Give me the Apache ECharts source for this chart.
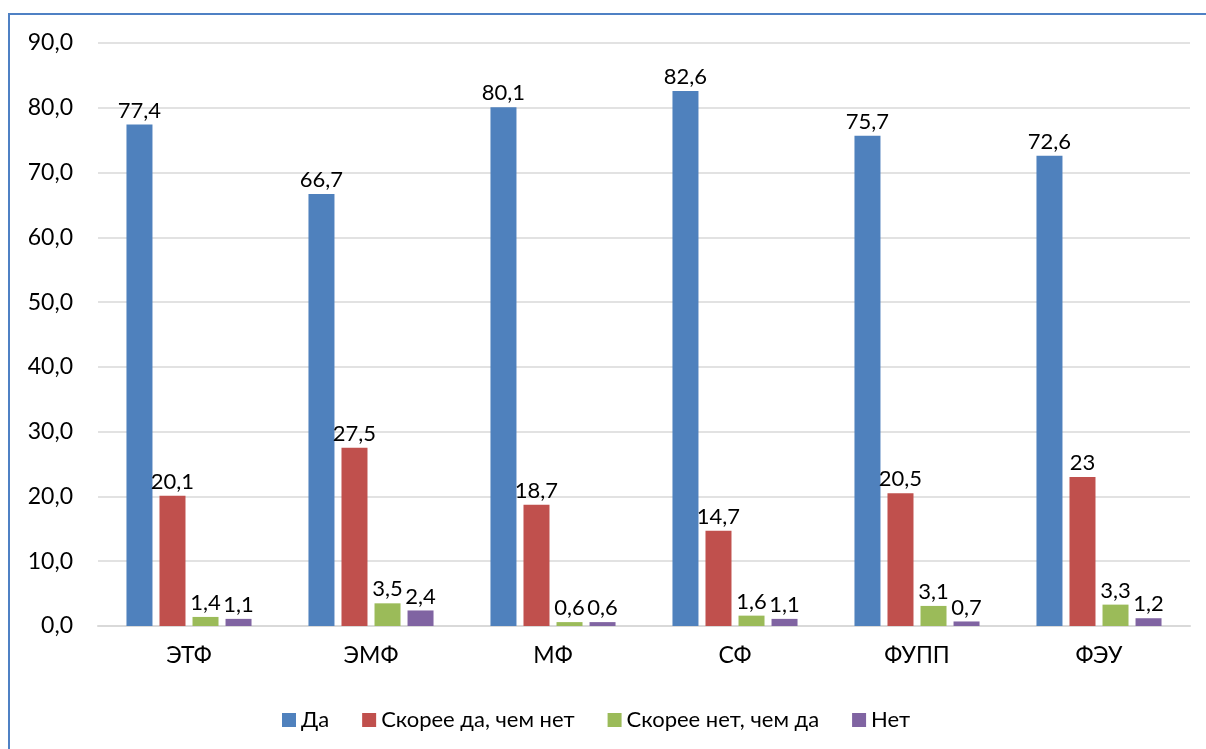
<!DOCTYPE html>
<html><head><meta charset="utf-8">
<script src="https://cdn.jsdelivr.net/npm/echarts@6/dist/echarts.min.js"></script>
<style>
html,body{margin:0;padding:0;background:#fff;overflow:hidden}
#c{position:absolute;left:0;top:0;width:1206px;height:749px}
#b{position:absolute;left:8px;top:13px;width:1300px;height:800px;border-top:2px solid #4f81c4;border-left:2px solid #4f81c4;pointer-events:none}
</style></head>
<body>
<div id="c"></div><div id="b"></div>
<script>
const categories = ['ЭТФ','ЭМФ','МФ','СФ','ФУПП','ФЭУ'];
const seriesNames = ['Да','Скорее да, чем нет','Скорее нет, чем да','Нет'];
const da = [77.4, 66.7, 80.1, 82.6, 75.7, 72.6];
const skoreeDa = [20.1, 27.5, 18.7, 14.7, 20.5, 23];
const skoreeNet = [1.4, 3.5, 0.6, 1.6, 3.1, 3.3];
const net = [1.1, 2.4, 0.6, 1.1, 0.7, 1.2];
const yTicks = {min: 0, max: 90, interval: 10};
const colors = ['#4F81BD','#C0504D','#9BBB59','#8064A2'];

const font = 'Lato, Carlito, Calibri, "Noto Sans", sans-serif';
const values = [da, skoreeDa, skoreeNet, net];
const chart = echarts.init(document.getElementById('c'));
chart.setOption({
  animation:false,
  textStyle:{fontFamily:font},
  grid:{left:98,right:16,top:43,bottom:123},
  legend:{top:704,left:277,itemWidth:14,itemHeight:14,itemGap:33,icon:'rect',
    textStyle:{fontSize:22,color:'#000',fontFamily:font}},
  xAxis:{type:'category',data:categories,
    axisLine:{lineStyle:{color:'#d9d9d9',width:2}},axisTick:{show:false},
    axisLabel:{color:'#000',fontSize:23,margin:18,fontFamily:font}},
  yAxis:{type:'value',min:yTicks.min,max:yTicks.max,interval:yTicks.interval,
    axisLine:{show:false},axisTick:{show:false},
    splitLine:{lineStyle:{color:'#d9d9d9',width:1.5}},
    axisLabel:{color:'#000',fontSize:23,margin:25,fontFamily:font,
      formatter:v=>v.toFixed(1).replace('.',',')}},
  series: seriesNames.map((n,i)=>({
    name:n,type:'bar',data:values[i],barWidth:26,barGap:'27%',
    itemStyle:{color:colors[i]},
    label:{show:true,position:'top',distance:3,color:'#000',fontSize:22,fontFamily:font,
      formatter:p=>String(p.value).replace('.',',')}
  })),
  color:colors
});
</script>
</body></html>
